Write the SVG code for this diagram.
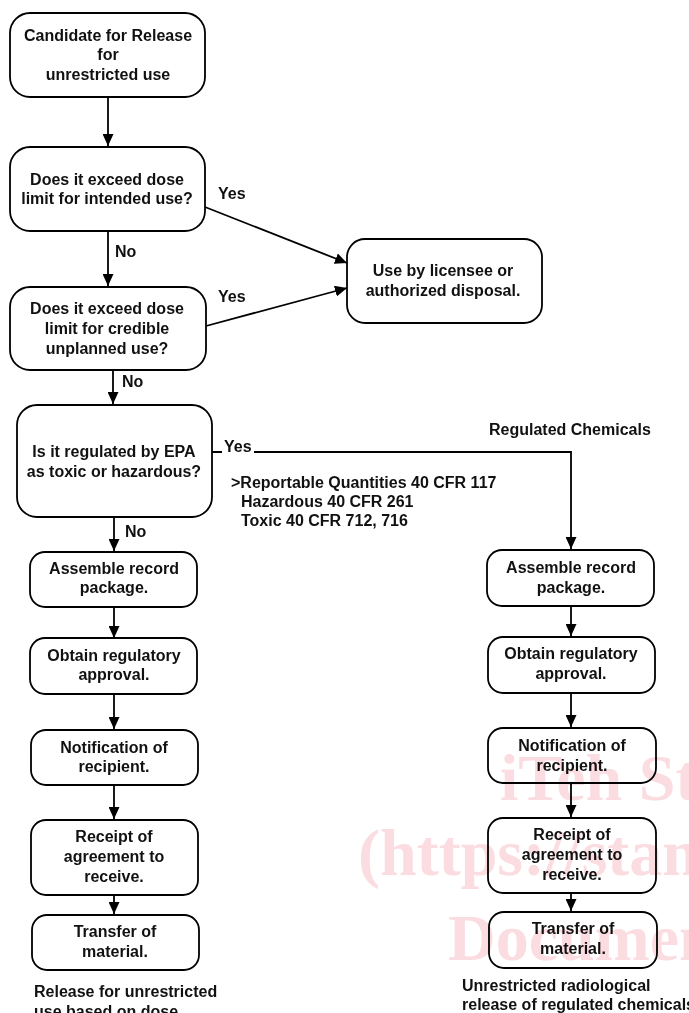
<svg xmlns="http://www.w3.org/2000/svg" width="689" height="1013" viewBox="0 0 689 1013">
<style>
  .bx { fill: #fff; stroke: #000; stroke-width: 1.8; }
  .t { font-family: "Liberation Sans", Arial, sans-serif; font-weight: bold; font-size: 16px; fill: #111; }
  .c { text-anchor: middle; }
  .ln { fill: none; stroke: #000; stroke-width: 1.8; }
  .wm { font-family: "Liberation Serif", "Times New Roman", serif; font-weight: bold; font-size: 66px; fill: #fbdce1; mix-blend-mode: multiply; }
</style>
<defs>
  <marker id="ah" markerUnits="userSpaceOnUse" markerWidth="12" markerHeight="11" refX="12" refY="5.5" orient="auto">
    <path d="M0,0 L12,5.5 L0,11 z" fill="#000"/>
  </marker>
</defs>
<rect width="689" height="1013" fill="#fff"/>

<g id="connectors">
  <path class="ln" d="M108,97 V146" marker-end="url(#ah)"/>
  <path class="ln" d="M205,207 L347,263" marker-end="url(#ah)"/>
  <path class="ln" d="M108,231 V286" marker-end="url(#ah)"/>
  <path class="ln" d="M206,326 L347,288" marker-end="url(#ah)"/>
  <path class="ln" d="M113,370 V404" marker-end="url(#ah)"/>
  <path class="ln" d="M212,452 H222 M254,452 H571 V549" marker-end="url(#ah)"/>
  <path class="ln" d="M114,517 V551" marker-end="url(#ah)"/>
  <path class="ln" d="M114,607 V638" marker-end="url(#ah)"/>
  <path class="ln" d="M114,694 V729" marker-end="url(#ah)"/>
  <path class="ln" d="M114,785 V819" marker-end="url(#ah)"/>
  <path class="ln" d="M114,895 V914" marker-end="url(#ah)"/>
  <path class="ln" d="M571,606 V636" marker-end="url(#ah)"/>
  <path class="ln" d="M571,693 V727" marker-end="url(#ah)"/>
  <path class="ln" d="M571,783 V817" marker-end="url(#ah)"/>
  <path class="ln" d="M571,893 V911" marker-end="url(#ah)"/>
  <text class="t" x="218" y="199">Yes</text>
  <text class="t" x="218" y="302">Yes</text>
  <text class="t" x="115" y="257">No</text>
  <text class="t" x="122" y="387">No</text>
  <text class="t" x="125" y="537">No</text>
  <text class="t" x="224" y="452">Yes</text>
</g>

<g id="n-candidate">
  <rect class="bx" x="10" y="13" width="195" height="84" rx="20"/>
  <text class="t c" x="108" y="41">Candidate for Release</text>
  <text class="t c" x="108" y="60">for</text>
  <text class="t c" x="108" y="80">unrestricted use</text>
</g>
<g id="n-intended">
  <rect class="bx" x="10" y="147" width="195" height="84" rx="20"/>
  <text class="t c" x="107" y="185">Does it exceed dose</text>
  <text class="t c" x="107" y="204">limit for intended use?</text>
</g>
<g id="n-licensee">
  <rect class="bx" x="347" y="239" width="195" height="84" rx="18"/>
  <text class="t c" x="443" y="276">Use by licensee or</text>
  <text class="t c" x="443" y="296">authorized disposal.</text>
</g>
<g id="n-credible">
  <rect class="bx" x="10" y="287" width="196" height="83" rx="20"/>
  <text class="t c" x="107" y="314">Does it exceed dose</text>
  <text class="t c" x="107" y="334">limit for credible</text>
  <text class="t c" x="107" y="354">unplanned use?</text>
</g>
<g id="n-epa">
  <rect class="bx" x="17" y="405" width="195" height="112" rx="20"/>
  <text class="t c" x="114" y="457">Is it regulated by EPA</text>
  <text class="t c" x="114" y="477">as toxic or hazardous?</text>
</g>
<g id="notes">
  <text class="t" x="489" y="435">Regulated Chemicals</text>
  <text class="t" x="231" y="488">&gt;Reportable Quantities 40 CFR 117</text>
  <text class="t" x="241" y="507">Hazardous 40 CFR 261</text>
  <text class="t" x="241" y="526">Toxic 40 CFR 712, 716</text>
</g>

<g id="n-assemble-l">
  <rect class="bx" x="30" y="552" width="167" height="55" rx="15"/>
  <text class="t c" x="114" y="574">Assemble record</text>
  <text class="t c" x="114" y="593">package.</text>
</g>
<g id="n-obtain-l">
  <rect class="bx" x="30" y="638" width="167" height="56" rx="15"/>
  <text class="t c" x="114" y="661">Obtain regulatory</text>
  <text class="t c" x="114" y="680">approval.</text>
</g>
<g id="n-notify-l">
  <rect class="bx" x="31" y="730" width="167" height="55" rx="15"/>
  <text class="t c" x="114" y="753">Notification of</text>
  <text class="t c" x="114" y="772">recipient.</text>
</g>
<g id="n-receipt-l">
  <rect class="bx" x="31" y="820" width="167" height="75" rx="15"/>
  <text class="t c" x="114" y="842">Receipt of</text>
  <text class="t c" x="114" y="862">agreement to</text>
  <text class="t c" x="114" y="882">receive.</text>
</g>
<g id="n-transfer-l">
  <rect class="bx" x="32" y="915" width="167" height="55" rx="15"/>
  <text class="t c" x="115" y="937">Transfer of</text>
  <text class="t c" x="115" y="957">material.</text>
</g>
<g id="caption-l">
  <text class="t" x="34" y="997">Release for unrestricted</text>
  <text class="t" x="34" y="1017">use based on dose</text>
</g>

<g id="n-assemble-r">
  <rect class="bx" x="487" y="550" width="167" height="56" rx="15"/>
  <text class="t c" x="571" y="573">Assemble record</text>
  <text class="t c" x="571" y="593">package.</text>
</g>
<g id="n-obtain-r">
  <rect class="bx" x="488" y="637" width="167" height="56" rx="15"/>
  <text class="t c" x="571" y="659">Obtain regulatory</text>
  <text class="t c" x="571" y="679">approval.</text>
</g>
<g id="n-notify-r">
  <rect class="bx" x="488" y="728" width="168" height="55" rx="15"/>
  <text class="t c" x="572" y="751">Notification of</text>
  <text class="t c" x="572" y="771">recipient.</text>
</g>
<g id="n-receipt-r">
  <rect class="bx" x="488" y="818" width="168" height="75" rx="15"/>
  <text class="t c" x="572" y="840">Receipt of</text>
  <text class="t c" x="572" y="860">agreement to</text>
  <text class="t c" x="572" y="880">receive.</text>
</g>
<g id="n-transfer-r">
  <rect class="bx" x="489" y="912" width="168" height="56" rx="15"/>
  <text class="t c" x="573" y="934">Transfer of</text>
  <text class="t c" x="573" y="954">material.</text>
</g>
<g id="caption-r">
  <text class="t" x="462" y="991">Unrestricted radiological</text>
  <text class="t" x="462" y="1010">release of regulated chemicals</text>
</g>

<g id="watermark">
  <text class="wm" x="500" y="800">iTeh St</text>
  <text class="wm" x="358" y="875">(https://stan</text>
  <text class="wm" x="448" y="960">Documen</text>
</g>
</svg>
